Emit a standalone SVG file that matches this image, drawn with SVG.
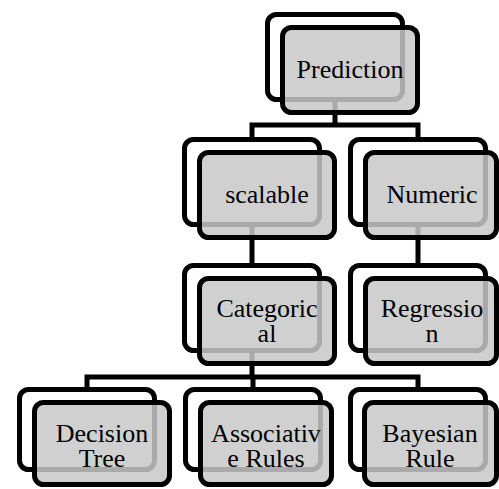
<svg xmlns="http://www.w3.org/2000/svg" width="499" height="489" viewBox="0 0 499 489">
<defs>
<style>
.back{fill:none;stroke:#000;stroke-width:5}
.front{fill:rgb(200,200,200);fill-opacity:0.85;stroke:#000;stroke-width:5}
.conn{fill:none;stroke:#000;stroke-width:5}
</style>
</defs>
<rect width="499" height="489" fill="#fff"/>
<g id="connectors">
<path class="conn" d="M335,100 V125 M252,125 H418 M252,122.5 V137 M418,122.5 V137"/>
<path class="conn" d="M252,225 V263"/>
<path class="conn" d="M418,225 V263"/>
<path class="conn" d="M252,350 V377 M87,377 H420.5 M87,374.5 V387 M253,377 V387 M418,374.5 V387"/>
</g>
<g font-family="Liberation Serif, Tinos, Times New Roman, DejaVu Serif, serif" font-size="26" text-anchor="middle" fill="#000">
<g id="prediction">
<rect class="back" x="267.5" y="14.5" width="135" height="85" rx="9"/>
<rect class="front" x="282.5" y="27.5" width="135" height="85" rx="9"/>
<text x="350" y="78">Prediction</text>
</g>
<g id="scalable">
<rect class="back" x="184.5" y="139.5" width="135" height="85" rx="9"/>
<rect class="front" x="199.5" y="152.5" width="135" height="85" rx="9"/>
<text x="267" y="203">scalable</text>
</g>
<g id="numeric">
<rect class="back" x="350.5" y="139.5" width="135" height="85" rx="9"/>
<rect class="front" x="365.5" y="152.5" width="131" height="85" rx="9"/>
<text x="432" y="203">Numeric</text>
</g>
<g id="categorical">
<rect class="back" x="184.5" y="265.5" width="135" height="85" rx="9"/>
<rect class="front" x="199.5" y="278.5" width="135" height="85" rx="9"/>
<text x="267" y="317">Categoric</text>
<text x="267" y="342">al</text>
</g>
<g id="regression">
<rect class="back" x="350.5" y="265.5" width="135" height="85" rx="9"/>
<rect class="front" x="365.5" y="278.5" width="131" height="85" rx="9"/>
<text x="432" y="317">Regressio</text>
<text x="432" y="342">n</text>
</g>
<g id="decision-tree">
<rect class="back" x="19.5" y="389.5" width="135" height="80" rx="9"/>
<rect class="front" x="34.5" y="402.5" width="135" height="82" rx="9"/>
<text x="102" y="442">Decision</text>
<text x="102" y="467">Tree</text>
</g>
<g id="associative-rules">
<rect class="back" x="185.5" y="389.5" width="135" height="80" rx="9"/>
<rect class="front" x="200.5" y="402.5" width="131" height="82" rx="9"/>
<text x="266" y="442">Associativ</text>
<text x="266" y="467">e Rules</text>
</g>
<g id="bayesian-rule">
<rect class="back" x="350.5" y="389.5" width="135" height="80" rx="9"/>
<rect class="front" x="364.5" y="402.5" width="132" height="82" rx="9"/>
<text x="430" y="442">Bayesian</text>
<text x="430" y="467">Rule</text>
</g>
</g>
</svg>
